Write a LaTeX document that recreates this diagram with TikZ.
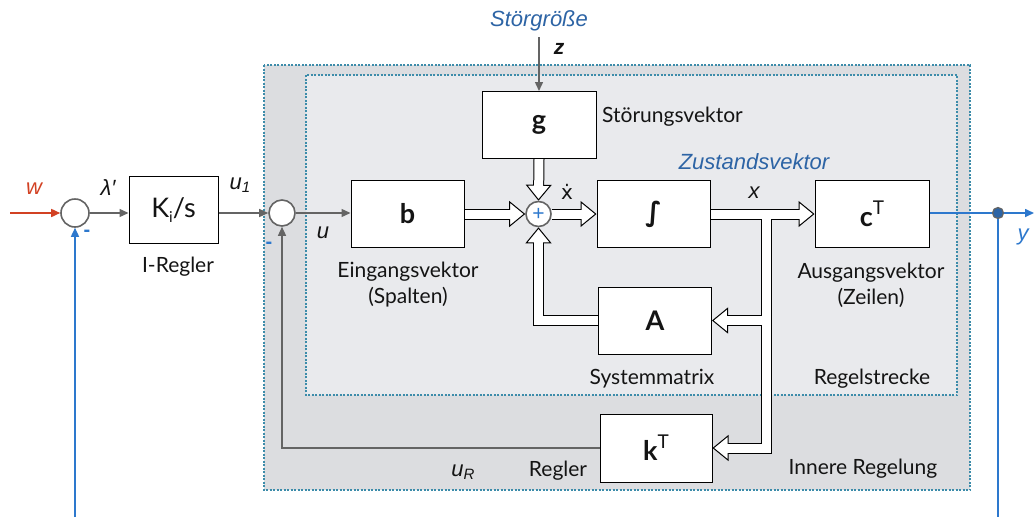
\documentclass[tikz,border=0pt]{standalone}
\usepackage{fontspec}
\setmainfont{Lato}
\newfontfamily\hv{Liberation Sans}
\newfontfamily\dv{DejaVu Sans}
\usetikzlibrary{arrows.meta,calc}
\definecolor{lgray}{RGB}{100,100,100}
\definecolor{bluel}{RGB}{45,120,205}
\definecolor{bluet}{RGB}{45,100,165}
\definecolor{redl}{RGB}{210,65,35}
\definecolor{dashc}{RGB}{60,140,170}
\definecolor{outerf}{RGB}{220,221,224}
\definecolor{innerf}{RGB}{233,234,237}
\definecolor{txt}{RGB}{20,20,20}
\pgfdeclarelayer{bg}
\pgfdeclarelayer{band}
\pgfsetlayers{bg,band,main}
\tikzset{
  box/.style={draw=black, line width=1pt, fill=white, minimum width=113pt, minimum height=67pt, inner sep=0pt, text=txt, font=\fontsize{27}{27}\selectfont},
  lbl/.style={font=\fontsize{21}{26}\selectfont, text=txt, inner sep=0pt, align=center},
  ilbl/.style={font=\hv\itshape\fontsize{22}{26}\selectfont, text=txt, inner sep=0pt},
  sumc/.style={circle, draw=lgray, line width=1.6pt, fill=white, minimum size=28pt, inner sep=0pt},
  garrow/.style={draw=lgray, line width=1.4pt, -{Triangle[width=8pt,length=9pt]}},
  barrow/.style={draw=bluel, line width=1.6pt, -{Triangle[width=8pt,length=9pt]}},
  bline/.style={draw=bluel, line width=1.6pt},
  rarrow/.style={draw=redl, line width=1.6pt, -{Triangle[width=8pt,length=9pt]}},
  bandb/.style={draw=black, line width=11pt, line join=miter, -{Triangle[width=26pt,length=16pt,line width=1pt,fill=white]}},
  bandw/.style={draw=white, line width=9pt, line join=miter, shorten >=14.5pt},
  region/.style={draw=dashc, line width=1.2pt, dash pattern=on 2pt off 1.5pt},
}
\begin{document}
\begin{tikzpicture}[x=1pt,y=-1pt]
\useasboundingbox (0,0) rectangle (1034,517);
\begin{pgfonlayer}{bg}
\fill[white] (0,0) rectangle (1034,517);
\draw[region, fill=outerf] (264,65) rectangle (970,490);
\draw[region, fill=innerf] (306,75) rectangle (957,395);
\end{pgfonlayer}

% blocks
\node[sumc] (c1) at (75,213) {};
\node[box, minimum width=89pt] (K) at (173.5,210) {K\raisebox{-0.18em}{\fontsize{15}{15}\selectfont i}/s};
\node[sumc, minimum size=26pt] (c2) at (282,213) {};
\node[box, font=\bfseries\fontsize{27}{27}\selectfont] (b) at (407.5,214) {b};
\node[box, minimum width=114pt, font=\bfseries\fontsize{27}{27}\selectfont] (g) at (539,125) {g};
\node[circle, draw=lgray, line width=1.6pt, fill=white, minimum size=25pt, inner sep=0pt, text=bluel, font=\hv\fontsize{21}{21}\selectfont] (sum) at (538.5,214) {+};
\node[box] (int) at (653.5,214) {\dv\bfseries\fontsize{27}{27}\selectfont ∫};
\node[box, minimum width=114pt, font=\bfseries\fontsize{27}{27}\selectfont] (cT) at (872,214) {c\raisebox{0.45em}{\mdseries\fontsize{19}{19}\selectfont T}};
\node[box, font=\bfseries\fontsize{27}{27}\selectfont] (A) at (655,320.5) {A};
\node[box, minimum width=112pt, minimum height=68pt, font=\bfseries\fontsize{27}{27}\selectfont] (kT) at (656,448) {k\raisebox{0.45em}{\mdseries\fontsize{19}{19}\selectfont T}};

\coordinate (win) at (10,213);
\coordinate (wbot) at (75,517);
\coordinate (zc) at (539,37);
\coordinate (br) at (766,214);
\coordinate (yout) at (1034,213);
\coordinate (ybot) at (998,517);
\node[circle, fill=bluet, draw=lgray, line width=1.2pt, minimum size=11pt, inner sep=0pt] (dt) at (998,213) {};

% thin connectors
\draw[rarrow] (win) -- (c1.west);
\draw[garrow] (c1.east) -- (K.west |- c1.east);
\draw[garrow] (K.east |- c2.west) -- (c2.west);
\draw[garrow] (c2.east) -- (b.west |- c2.east);
\draw[garrow] (kT.west) -| (c2.south);
\draw[garrow] (zc) -- (g.north);
\draw[barrow] (wbot) -- (c1.south);
\draw[bline] (cT.east |- dt.west) -- (dt.west);
\draw[barrow] (dt.east) -- (yout);
\draw[bline] (dt.south) -- (ybot);

% hollow vector connectors
\begin{pgfonlayer}{band}
\draw[bandb] (b.east) -- (sum.west);
\draw[bandb] (g.south) -- (sum.north);
\draw[bandb] (A.west) -| (sum.south);
\draw[bandb] (sum.east) -- (int.west);
\draw[bandb] (int.east) -- (cT.west);
\draw[bandb] (br) |- (kT.east);
\draw[bandb] (br |- A.east) -- (A.east);
\draw[bandw] (b.east) -- (sum.west);
\draw[bandw] (g.south) -- (sum.north);
\draw[bandw] (A.west) -| (sum.south);
\draw[bandw] (sum.east) -- (int.west);
\draw[bandw] (int.east) -- (cT.west);
\draw[bandw] (br) |- (kT.east);
\draw[bandw] (br |- A.east) -- (A.east);
\end{pgfonlayer}

% labels
\node[ilbl, text=redl] (lw) at (34,189) {w};
\node[ilbl] (llam) at (108,188) {λ′};
\node[ilbl] (lu1) at (240,185) {u\raisebox{-0.12em}{\fontsize{15}{15}\selectfont 1}};
\node[lbl] (lireg) at (178,267) {I-Regler};
\node[font=\hv\bfseries\fontsize{20}{20}\selectfont, text=bluel, inner sep=0pt] (m1) at (87,233) {-};
\node[font=\hv\bfseries\fontsize{20}{20}\selectfont, text=bluel, inner sep=0pt] (m2) at (269,245) {-};
\node[ilbl] (lu) at (323,233) {u};
\node[lbl] (lein) at (408,285) {Eingangsvektor\\(Spalten)};
\node[lbl, anchor=west] (lstv) at (602,117) {Störungsvektor};
\node[ilbl, text=bluet] (lsg) at (539,21) {Störgröße};
\node[ilbl, font=\hv\bfseries\itshape\fontsize{21}{26}\selectfont] (lz) at (559,49) {z};
\node[font=\dv\fontsize{20}{20}\selectfont, text=txt, inner sep=0pt] (lxd) at (567,192) {ẋ};
\node[ilbl] (lx) at (754,193) {x};
\node[ilbl, text=bluet] (lzv) at (754,162) {Zustandsvektor};
\node[lbl] (laus) at (871,285) {Ausgangsvektor\\(Zeilen)};
\node[lbl] (lsys) at (652,379) {Systemmatrix};
\node[lbl] (lrs) at (872,379) {Regelstrecke};
\node[lbl] (lir) at (863,469) {Innere Regelung};
\node[lbl] (lreg) at (558,471) {Regler};
\node[ilbl] (lur) at (463,472) {u\raisebox{-0.12em}{\fontsize{15}{15}\selectfont R}};
\node[ilbl, text=bluel] (ly) at (1023,237) {y};
\end{tikzpicture}
\end{document}
